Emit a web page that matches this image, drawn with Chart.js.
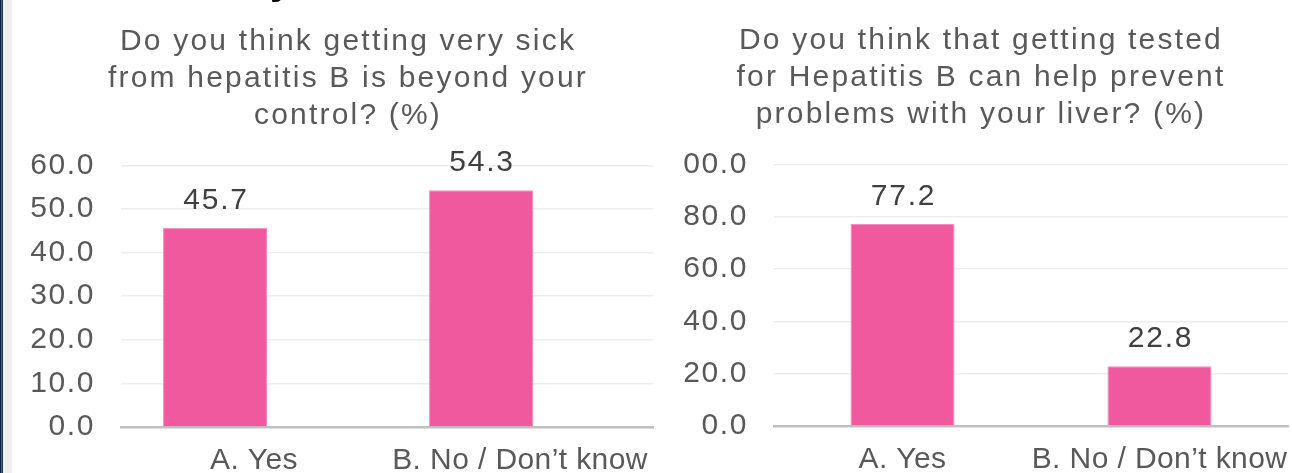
<!DOCTYPE html>
<html>
<head>
<meta charset="utf-8">
<script src="https://cdn.jsdelivr.net/npm/chart.js@4.4.1/dist/chart.umd.min.js"></script>
<style>
  html, body { margin: 0; padding: 0; background: #ffffff; }
  #page { position: relative; width: 1292px; height: 473px; overflow: hidden; background: #ffffff; }
  #edge { position: absolute; left: 0; top: 0; width: 3px; height: 473px;
          background: linear-gradient(to right, #10203c 0px, #10203c 1px, #3a6395 1px, #3a6395 2px, #1d3761 2px); }
  #strip { position: absolute; left: 3px; top: 0; width: 9px; height: 473px; background: #f0f0f0; }
  #heading { position: absolute; left: 270px; top: -40px; z-index: 3; font: bold 40px "Liberation Sans", Arial, sans-serif; color: #000; line-height: 40px; }
  .box { position: absolute; top: 0; height: 473px; background: #ffffff; }
  #boxSick { left: 12px; width: 669px; z-index: 2; }
  #boxTest { left: 670px; width: 622px; z-index: 1; }
</style>
</head>
<body>
<div id="page">
  <div id="edge"></div>
  <div id="strip"></div>
  <div id="boxTest" class="box"><canvas id="chartTest"></canvas></div>
  <div id="boxSick" class="box"><canvas id="chartSick"></canvas></div>
  <div id="heading">y</div>
</div>
<script>
// ---- data ----
const categories = ['A. Yes', 'B. No / Don’t know'];

const sickTitle = ['Do you think getting very sick', 'from hepatitis B is beyond your', 'control? (%)'];
const sickValues = [45.7, 54.3];
const sickAxis = { min: 0, max: 60, step: 10 };

const testTitle = ['Do you think that getting tested', 'for Hepatitis B can help prevent', 'problems with your liver? (%)'];
const testValues = [77.2, 22.8];
const testAxis = { min: 0, max: 100, step: 20 };

// ---- styling ----
const FONT = '"Liberation Sans", Arial, sans-serif';
const TEXT_GREY = '#595959';
const LABEL_DARK = '#404040';
const BAR_FILL = '#F0599E';
const BAR_EDGE = '#F48CBC';
const SP_TITLE = '2.2px';
const SP_YTICK = '1.6px';
const SP_XTICK = '0.4px';
const SP_VALUE = '1.8px';

// per-element character spacing (title, y ticks, x ticks)
const spacingPlugin = {
  id: 'spacing',
  afterLayout(chart) {
    const wrap = (obj, method, sp) => {
      if (!obj || obj['_spaced_' + method]) return;
      const orig = obj[method];
      obj[method] = function (...args) {
        const ctx = chart.ctx;
        const prev = ctx.letterSpacing;
        ctx.letterSpacing = sp;
        try { return orig.apply(this, args); } finally { ctx.letterSpacing = prev; }
      };
      obj['_spaced_' + method] = true;
    };
    wrap(chart.titleBlock, 'draw', SP_TITLE);
    wrap(chart.scales.y, 'drawLabels', SP_YTICK);
    wrap(chart.scales.x, 'drawLabels', SP_XTICK);
  }
};

// value labels above each bar
const valueLabels = {
  id: 'valueLabels',
  afterDatasetsDraw(chart) {
    const ctx = chart.ctx;
    chart.data.datasets.forEach((ds, di) => {
      const meta = chart.getDatasetMeta(di);
      meta.data.forEach((el, i) => {
        const v = ds.data[i];
        if (v === null || v === undefined) return;
        ctx.save();
        ctx.letterSpacing = SP_VALUE;
        ctx.font = '30px ' + FONT;
        ctx.fillStyle = LABEL_DARK;
        ctx.textAlign = 'center';
        ctx.textBaseline = 'alphabetic';
        ctx.fillText(v.toFixed(1), el.x + 1, el.y - 19);
        ctx.restore();
      });
    });
  }
};

function makeChart(id, o) {
  return new Chart(document.getElementById(id), {
    type: 'bar',
    data: { labels: categories, datasets: o.datasets },
    options: {
      responsive: true,
      maintainAspectRatio: false,
      animation: false,
      devicePixelRatio: 1,
      layout: { padding: { left: o.padLeft, right: 0, top: 0, bottom: 0 } },
      plugins: {
        legend: { display: false },
        tooltip: { enabled: false },
        title: {
          display: true,
          text: o.title,
          color: TEXT_GREY,
          font: { family: FONT, size: 30, weight: 'normal', lineHeight: 1.233 },
          padding: { top: o.titleTop, bottom: o.titleBottom }
        }
      },
      scales: {
        x: {
          grid: { display: false, drawTicks: false },
          border: { display: true, color: '#bfbfbf', width: 2.5 },
          ticks: {
            color: TEXT_GREY, font: { family: FONT, size: 30 },
            padding: 15.5, maxRotation: 0, minRotation: 0, autoSkip: false
          },
          afterFit(s) {
            s.height = o.xHeight;
            s.paddingLeft = 0;
            s.paddingRight = o.plotRightGap;
          }
        },
        y: {
          min: o.axis.min, max: o.axis.max,
          grid: { color: '#ededed', lineWidth: 1.5, drawTicks: false },
          border: { display: false },
          ticks: {
            stepSize: o.axis.step, color: TEXT_GREY, padding: 26,
            font: { family: FONT, size: 30 },
            callback: v => Number(v).toFixed(1)
          },
          afterFit(s) { s.width = o.yWidth; }
        }
      }
    },
    plugins: [spacingPlugin, valueLabels]
  });
}

// left chart: the response series shares each category slot with an empty second series
makeChart('chartSick', {
  title: sickTitle,
  axis: sickAxis,
  padLeft: 3,
  plotRightGap: 28,
  yWidth: 106,
  xHeight: 46,
  titleTop: 23.5,
  titleBottom: 30.8,
  datasets: [
    { label: 'Response', data: sickValues, backgroundColor: BAR_FILL, borderColor: BAR_EDGE, borderWidth: 1,
      categoryPercentage: 0.586, barPercentage: 1.334 },
    { label: '', data: [null, null], backgroundColor: BAR_FILL,
      categoryPercentage: 0.586, barPercentage: 1.334 }
  ]
});

// right chart
makeChart('chartTest', {
  title: testTitle,
  axis: testAxis,
  padLeft: 0,
  plotRightGap: 4,
  yWidth: 104,
  xHeight: 47,
  titleTop: 22.5,
  titleBottom: 30.8,
  datasets: [
    { label: 'Response', data: testValues, backgroundColor: BAR_FILL, borderColor: BAR_EDGE, borderWidth: 1,
      categoryPercentage: 1, barPercentage: 0.405 }
  ]
});
</script>
</body>
</html>
